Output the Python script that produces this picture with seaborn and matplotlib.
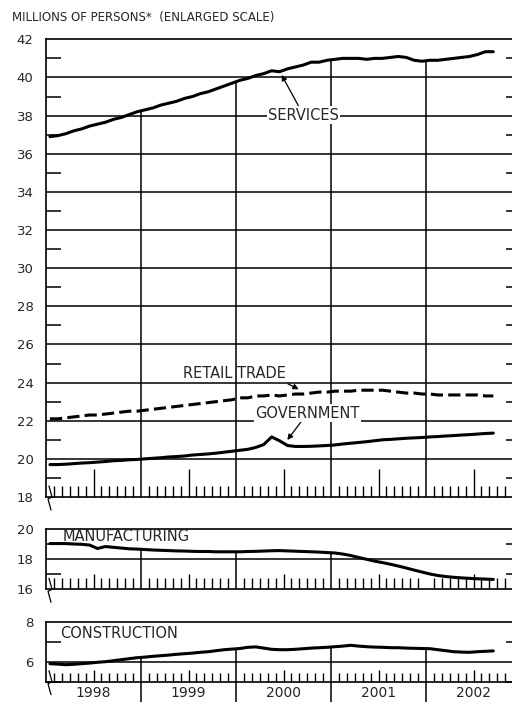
import numpy as np
import pandas as pd
import matplotlib
matplotlib.use("Agg")
import matplotlib.pyplot as plt
import seaborn as sns
from matplotlib.lines import Line2D

# --- data: monthly, Jan 1998 .. Sep 2002 (millions of persons) ---
years = [1998, 1999, 2000, 2001, 2002]
year_labels = ["1998", "1999", "2000", "2001", "2002"]

services = [36.9, 36.95, 37.05, 37.2, 37.3, 37.45, 37.55, 37.65, 37.8, 37.9, 38.05, 38.2,
            38.3, 38.4, 38.55, 38.65, 38.75, 38.9, 39.0, 39.15, 39.25, 39.4, 39.55, 39.7,
            39.85, 39.95, 40.1, 40.2, 40.35, 40.3, 40.45, 40.55, 40.65, 40.8, 40.8, 40.9,
            40.95, 41.0, 41.0, 41.0, 40.95, 41.0, 41.0, 41.05, 41.1, 41.05, 40.9, 40.85,
            40.9, 40.9, 40.95, 41.0, 41.05, 41.1, 41.2, 41.35, 41.35]
retail_trade = [22.1, 22.1, 22.15, 22.2, 22.25, 22.3, 22.3, 22.35, 22.4, 22.45, 22.5, 22.5,
                22.55, 22.6, 22.65, 22.7, 22.75, 22.8, 22.85, 22.9, 22.95, 23.0, 23.05, 23.1,
                23.2, 23.2, 23.3, 23.3, 23.35, 23.3, 23.35, 23.4, 23.4, 23.45, 23.5, 23.5,
                23.55, 23.55, 23.55, 23.6, 23.6, 23.6, 23.6, 23.55, 23.5, 23.45, 23.45, 23.4,
                23.4, 23.35, 23.35, 23.35, 23.35, 23.35, 23.35, 23.3, 23.3]
government = [19.7, 19.7, 19.72, 19.75, 19.78, 19.8, 19.83, 19.86, 19.9, 19.92, 19.95, 19.97,
              20.0, 20.03, 20.06, 20.1, 20.12, 20.15, 20.2, 20.23, 20.26, 20.3, 20.35, 20.4,
              20.45, 20.5, 20.6, 20.75, 21.15, 20.95, 20.7, 20.65, 20.65, 20.66, 20.68, 20.7,
              20.73, 20.78, 20.82, 20.86, 20.9, 20.95, 21.0, 21.02, 21.05, 21.08, 21.1, 21.12,
              21.15, 21.17, 21.2, 21.22, 21.25, 21.27, 21.3, 21.33, 21.35]
manufacturing = [19.05, 19.05, 19.05, 19.02, 19.0, 18.95, 18.72, 18.85, 18.8, 18.75, 18.7, 18.68,
                 18.65, 18.62, 18.6, 18.58, 18.56, 18.55, 18.53, 18.52, 18.52, 18.5, 18.5, 18.5,
                 18.5, 18.52, 18.53, 18.55, 18.57, 18.58, 18.56, 18.54, 18.52, 18.5, 18.48, 18.45,
                 18.42, 18.35, 18.25, 18.12, 18.0, 17.88, 17.78, 17.67, 17.55, 17.42, 17.28, 17.15,
                 17.02, 16.92, 16.85, 16.8, 16.76, 16.73, 16.7, 16.68, 16.66]
construction = [5.9, 5.88, 5.85, 5.87, 5.9, 5.93, 5.97, 6.0, 6.05, 6.1, 6.15, 6.2,
                6.23, 6.27, 6.3, 6.33, 6.37, 6.4, 6.43, 6.47, 6.5, 6.55, 6.6, 6.63,
                6.66, 6.72, 6.74, 6.68, 6.62, 6.6, 6.6, 6.62, 6.65, 6.68, 6.7, 6.72,
                6.75, 6.78, 6.82, 6.78, 6.75, 6.73, 6.72, 6.7, 6.7, 6.68, 6.67, 6.66,
                6.65, 6.6, 6.55, 6.5, 6.48, 6.47, 6.5, 6.52, 6.54]

months = pd.date_range("1998-01-01", periods=len(services), freq="MS")
df = pd.DataFrame({
    "t": months.year + (months.month - 0.5) / 12,
    "services": services,
    "retail": retail_trade,
    "government": government,
    "manufacturing": manufacturing,
    "construction": construction,
})

sns.set_style("white")
plt.rcParams["font.family"] = ["DejaVu Sans"]

W, H = 512, 705
fig = plt.figure(figsize=(W / 100, H / 100), dpi=100)


def add_ax(top_px, bottom_px):
    return fig.add_axes([46 / W, 1 - bottom_px / H, 475 / W, (bottom_px - top_px) / H])


ax_top = add_ax(39.3, 497)
ax_mid = add_ax(529.3, 589.3)
ax_bot = add_ax(621.7, 681.7)

LW = 2.2
LABEL_FS = 10.5


def style(ax, ylo, yhi, top_col, short, tall, bottom_px, xlabels=False, vline_lo=None,
          vline_years=None):
    ax.set_xlim(1998, 2003)
    ax.set_ylim(ylo, yhi)
    for s in ax.spines.values():
        s.set_color("black")
        s.set_linewidth(1.2)
    evens = [v for v in range(int(np.ceil(ylo)), int(yhi) + 1) if v % 2 == 0]
    odds = [v for v in range(int(np.ceil(ylo)), int(yhi) + 1) if v % 2 == 1]
    ax.set_yticks(evens)
    ax.set_yticks(odds, minor=True)
    ax.tick_params(axis="y", which="major", length=0, pad=9, labelsize=9.5)
    ax.tick_params(axis="y", which="minor", left=True, right=True, direction="in",
                   length=11, width=1.1, color="black")
    # gridlines at even values
    ax.hlines([v for v in evens if ylo < v < yhi], 1998, 2003, color="black", lw=1.1, zorder=1)
    # month ticks
    mids = [y + 0.5 for y in years]
    minor_x = [y + m / 12 for y in years for m in range(1, 12) if m != 6]
    ax.set_xticks(mids)
    ax.set_xticks(minor_x, minor=True)
    ax.tick_params(axis="x", which="major", bottom=True, direction="in", length=tall,
                   width=1.0, color="black", pad=3, labelsize=10)
    ax.tick_params(axis="x", which="minor", bottom=True, direction="in", length=short,
                   width=1.0, color="black")
    if xlabels:
        ax.set_xticklabels(year_labels)
    else:
        ax.set_xticklabels([])
    ax.set_xlabel("")
    ax.set_ylabel("")
    # year boundary lines, from the top series down
    vy = years[1:] if vline_years is None else vline_years
    tops = np.interp(vy, df["t"], df[top_col])
    lo = ylo if vline_lo is None else vline_lo
    ax.vlines(vy, lo, tops, color="black", lw=1.1, zorder=1, clip_on=False)
    # axis-break mark
    xs = np.array([49, 52, 48, 51])
    ys = bottom_px + np.array([-11, 0, 2, 13])
    fig.add_artist(Line2D(xs / W, 1 - ys / H, transform=fig.transFigure, color="black", lw=0.9))


# --- top panel ---
sns.lineplot(data=df, x="t", y="services", ax=ax_top, color="black", lw=LW, zorder=3)
sns.lineplot(data=df, x="t", y="retail", ax=ax_top, color="black", lw=LW, zorder=3,
             linestyle=(0, (4, 1.7)))
sns.lineplot(data=df, x="t", y="government", ax=ax_top, color="black", lw=LW, zorder=3)
style(ax_top, 18, 42, "services", 8, 20, 497)

box = dict(facecolor="white", edgecolor="none", pad=1)
arrow = dict(arrowstyle="-|>", color="black", lw=0.9, mutation_scale=8, shrinkA=0, shrinkB=0)
ax_top.annotate("SERVICES", xy=(2000.48, 40.13), xytext=(2000.71, 38.03), ha="center",
                va="center", fontsize=LABEL_FS, bbox=box, arrowprops=arrow, zorder=4)
ax_top.annotate("RETAIL TRADE", xy=(2000.66, 23.65), xytext=(1999.98, 24.5), ha="center",
                va="center", fontsize=LABEL_FS, zorder=4,
                arrowprops=dict(arrow, relpos=(0.96, 0.0)))
ax_top.annotate("GOVERNMENT", xy=(2000.54, 20.99), xytext=(2000.75, 22.4), ha="center",
                va="center", fontsize=LABEL_FS, bbox=box, zorder=4,
                arrowprops=dict(arrow, relpos=(0.45, 0.0)))

# --- manufacturing ---
sns.lineplot(data=df, x="t", y="manufacturing", ax=ax_mid, color="black", lw=LW, zorder=3)
style(ax_mid, 16, 20, "manufacturing", 8, 11, 589.3, vline_years=[1999, 2000, 2001])
ax_mid.text(1998.17, 19.5, "MANUFACTURING", ha="left", va="center", fontsize=LABEL_FS)

# --- construction ---
sns.lineplot(data=df, x="t", y="construction", ax=ax_bot, color="black", lw=LW, zorder=3)
style(ax_bot, 5, 8, "construction", 6.5, 8.7, 681.7, xlabels=True, vline_lo=4.0)
ax_bot.text(1998.15, 7.41, "CONSTRUCTION", ha="left", va="center", fontsize=LABEL_FS)

fig.text(12 / W, 1 - 17 / H, "MILLIONS OF PERSONS*  (ENLARGED SCALE)", ha="left",
         va="center", fontsize=8.5)

fig.savefig("out.png", dpi=100)
